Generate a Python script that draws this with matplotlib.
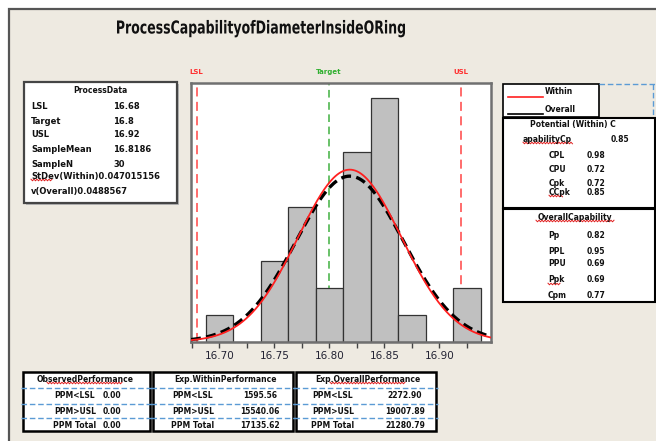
import numpy as np
import matplotlib
matplotlib.use("Agg")
from matplotlib import pyplot as plt
from matplotlib.patches import Rectangle, PathPatch
from matplotlib.lines import Line2D
from matplotlib.textpath import TextPath
from matplotlib.font_manager import FontProperties
from matplotlib.transforms import Affine2D

# histogram data (bin centers and counts)
bin_centers = [16.700, 16.725, 16.750, 16.775, 16.800, 16.825, 16.850, 16.875, 16.900, 16.925]
bin_counts = [1, 0, 3, 5, 2, 7, 9, 1, 0, 2]
bin_width = 0.025

# spec limits and stats
lsl = 16.68
target = 16.80
usl = 16.92
sample_mean = 16.8186
sample_n = 30
sd_within = 0.047015156
sd_overall = 0.0488567

tick_values = [16.70, 16.75, 16.80, 16.85, 16.90]
tick_labels = ["16.70", "16.75", "16.80", "16.85", "16.90"]

process_rows = [("LSL", "16.68"), ("Target", "16.8"), ("USL", "16.92"),
                ("SampleMean", "16.8186"), ("SampleN", "30")]
potential_rows = [("CPL", "0.98"), ("CPU", "0.72"), ("Cpk", "0.72"), ("CCpk", "0.85")]
overall_rows = [("Pp", "0.82"), ("PPL", "0.95"), ("PPU", "0.69"), ("Ppk", "0.69"), ("Cpm", "0.77")]
perf_labels = ["PPM<LSL", "PPM>USL", "PPM Total"]
observed_vals = ["0.00", "0.00", "0.00"]
within_vals = ["1595.56", "15540.06", "17135.62"]
overall_vals = ["2272.90", "19007.89", "21280.79"]

W, H = 656, 441
BG = '#EEEAE1'
fig = plt.figure(figsize=(W / 100, H / 100), dpi=100)
fig.patch.set_facecolor('white')

def fx(x):
    return x / W

def fy(y):
    return 1 - y / H

def box(x0, y0, x1, y1, **kw):
    fig.add_artist(Rectangle((fx(x0), fy(y1)), (x1 - x0) / W, (y1 - y0) / H,
                             transform=fig.transFigure, **kw))

def hline(x0, x1, y, **kw):
    fig.add_artist(Line2D([fx(x0), fx(x1)], [fy(y), fy(y)], transform=fig.transFigure, **kw))

def vline(x, y0, y1, **kw):
    fig.add_artist(Line2D([fx(x), fx(x)], [fy(y0), fy(y1)], transform=fig.transFigure, **kw))

def txt(x, y, s, size=5.5, **kw):
    kw.setdefault('color', '#111111')
    kw.setdefault('fontweight', 'bold')
    fig.text(fx(x), fy(y), s, fontsize=size, va='center', **kw)

def squiggle(x0, x1, y):
    xs = np.arange(x0, x1 + 0.1, 1.5)
    ys = y + np.where(np.arange(len(xs)) % 2 == 0, -0.8, 0.8)
    fig.add_artist(Line2D(fx(xs), fy(ys), transform=fig.transFigure, color='#E02020', lw=0.7))

# background frame
box(9, 9, 700, 500, facecolor=BG, edgecolor='#555555', lw=1.6, zorder=0)

# condensed title: squeeze a bold text path to the reference width
title = "ProcessCapabilityofDiameterInsideORing"
tp = TextPath((0, 0), title, size=10, prop=FontProperties(family='DejaVu Sans', weight='bold'))
ext = tp.get_extents()
cap = TextPath((0, 0), "P", size=10, prop=FontProperties(family='DejaVu Sans', weight='bold')).get_extents()
sx = (288 / W) / ext.width
sy = (13 / H) / cap.height
tr = Affine2D().translate(-ext.x0, 0).scale(sx, sy).translate(fx(117), fy(33.5)) + fig.transFigure
fig.add_artist(PathPatch(tp, transform=tr, facecolor='#111111', edgecolor='none', lw=0))

# main histogram
ax = fig.add_axes([fx(191), fy(341.7), (490.7 - 191) / W, (341.7 - 82.7) / H])
ax.set_facecolor('white')
ax.bar(bin_centers, bin_counts, width=bin_width, color='#C0C0C0', edgecolor='#333333', lw=0.9, zorder=2)
xs = np.linspace(16.6743, 16.9467, 300)
y_within = sample_n * bin_width * np.exp(-0.5 * ((xs - sample_mean) / sd_within) ** 2) / (sd_within * np.sqrt(2 * np.pi))
y_overall = sample_n * bin_width * np.exp(-0.5 * ((xs - sample_mean) / sd_overall) ** 2) / (sd_overall * np.sqrt(2 * np.pi))
ax.plot(xs, y_overall, color='black', lw=2.4, ls=(0, (3, 1.6)), zorder=3)
ax.plot(xs, y_within, color='#FF2020', lw=1.3, zorder=4)
ax.axvline(lsl, color='#FF6060', lw=1.3, ls=(0, (5, 3)), zorder=1)
ax.axvline(usl, color='#FF6060', lw=1.3, ls=(0, (5, 3)), zorder=1)
ax.axvline(target, color='#40B040', lw=1.1, ls=(0, (5, 3)), zorder=1)
ax.set_xlim(16.6743, 16.9467)
ax.set_ylim(0, 9.58)
ax.set_yticks([])
ax.set_xticks(tick_values)
ax.set_xticklabels(tick_labels, fontsize=7.5, color='#222233')
ax.set_xticks(np.arange(16.675, 16.94, 0.05), minor=True)
ax.tick_params(axis='x', which='both', length=4, width=1, color='#444444', pad=3)
for sp in ax.spines.values():
    sp.set_color('#707070')
    sp.set_linewidth(1.8)

txt(196, 72, "LSL", size=5, color='#FF3030', ha='center')
txt(329, 72, "Target", size=5, color='#30B030', ha='center')
txt(461, 72, "USL", size=5, color='#FF3030', ha='center')

# process data box
box(26, 84, 179, 205, facecolor='#B8B8B8', edgecolor='none', zorder=1)
box(24, 82, 177, 203, facecolor='white', edgecolor='#454545', lw=1.6, zorder=2)
txt(100, 91, "ProcessData", size=5.5, ha='center', zorder=3)
row_y = [106.7, 121.7, 134.3, 149, 164.3]
for (lab, val), y in zip(process_rows, row_y):
    txt(31, y, lab, size=6, zorder=3)
    txt(113, y, val, size=6, zorder=3)
txt(31, 176.7, "StDev(Within)0.047015156", size=6, zorder=3)
squiggle(31, 53, 180)
txt(31, 191.7, "v(Overall)0.0488567", size=6, zorder=3)

# legend box
box(503, 84, 599, 117, facecolor='white', edgecolor='black', lw=1.2, zorder=2)
hline(599, 656, 84, color='#5B9BD5', lw=1, ls=(0, (4, 2)), zorder=2)
vline(653, 84, 118, color='#5B9BD5', lw=1, ls=(0, (4, 2)), zorder=2)
hline(508, 543, 97, color='#FF2020', lw=1.2, zorder=3)
txt(545, 92, "Within", size=5.5, zorder=3)
hline(508, 543, 114.3, color='black', lw=1.2, zorder=3)
txt(545, 110, "Overall", size=5.5, zorder=3)

# potential capability box
box(503, 118, 655, 208, facecolor='white', edgecolor='black', lw=1.5, zorder=2)
txt(573, 125, "Potential (Within) C", size=5.5, ha='center', zorder=3)
txt(523, 139, "apabilityCp", size=5.5, zorder=3)
squiggle(523, 573, 143)
txt(611, 139, "0.85", size=5.5, zorder=3)
for (lab, val), y in zip(potential_rows, [155, 169, 183.3, 192.3]):
    txt(549, y, lab, size=5.5, zorder=3)
    txt(587, y, val, size=5.5, zorder=3)
squiggle(549, 563, 196)

# overall capability box
box(503, 209, 655, 302, facecolor='white', edgecolor='black', lw=1.5, zorder=2)
txt(575, 217.3, "OverallCapability", size=5.5, ha='center', zorder=3)
squiggle(536, 614, 221)
for (lab, val), y in zip(overall_rows, [236, 251.7, 263.3, 280, 295]):
    txt(548, y, lab, size=5.5, zorder=3)
    txt(587, y, val, size=5.5, zorder=3)
squiggle(548, 561, 284)

# bottom performance tables
tables = [
    (23, 150, "ObservedPerformance", observed_vals, 85, 75, 112, True),
    (153, 293, "Exp.WithinPerformance", within_vals, 225, 193, 260, False),
    (296, 436, "Exp.OverallPerformance", overall_vals, 368, 333, 405, True),
]
for x0, x1, title, vals, tx, lx, vx, red in tables:
    box(x0, 372, x1, 431, facecolor='white', edgecolor='black', lw=1.8, zorder=2)
    txt(tx, 379, title, size=5.5, ha='center', zorder=3)
    if red:
        squiggle(tx - 38, tx + 38, 383)
    for y in [388, 404, 418]:
        hline(x0 - 2, x1 + 2, y, color='#5B9BD5', lw=1, ls=(0, (4, 2)), zorder=4)
    for lab, val, y in zip(perf_labels, vals, [396, 411, 425]):
        txt(lx, y, lab, size=5.5, ha='center', zorder=3)
        txt(vx, y, val, size=5.5, ha='center', zorder=3)

fig.savefig("out.png", dpi=100, facecolor=fig.get_facecolor())
